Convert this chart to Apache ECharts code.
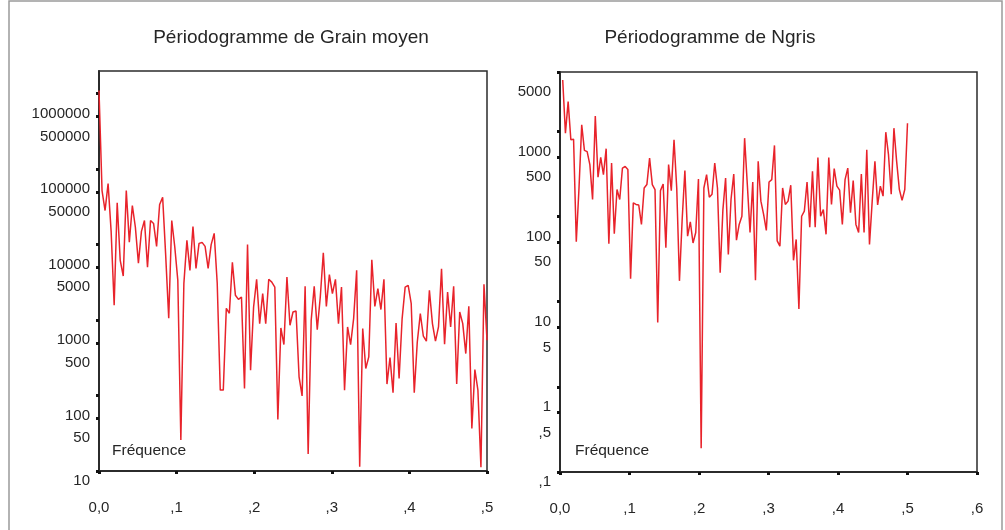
<!DOCTYPE html>
<html>
<head>
<meta charset="utf-8">
<script src="https://cdn.jsdelivr.net/npm/echarts@6/dist/echarts.min.js"></script>
<style>
  html, body { margin: 0; padding: 0; background: #fff; }
  #chart { width: 1005px; height: 530px; }
</style>
</head>
<body>
<div id="chart"></div>
<script>
// Fourier frequencies k / N of a series of length N
const N = 256;

// Periodogram of "Grain moyen", k = 0 .. 128
const grainPeriodogram = [
  1100000, 52000, 28300, 64500, 15000, 1570, 35800, 6170, 3830, 52000,
  10800, 33000, 17000, 5690, 15000, 20900, 5020, 20900, 19100, 9470,
  34000, 42300, 7200, 1060, 20900, 9300, 3360, 25.7, 3070, 11400,
  4560, 17400, 4840, 10400, 10700, 9470, 4840, 10000, 14100, 3070,
  118, 118, 1430, 1230, 5820, 2130, 1880, 2020, 124, 10000,
  217, 1490, 3470, 899, 2240, 899, 3470, 3190, 2740, 48,
  787, 474, 3720, 853, 1280, 1320, 177, 99, 2800, 16.8,
  994, 2800, 748, 2020, 7820, 1520, 4000, 2240, 3470, 899,
  2740, 118, 811, 474, 1047, 4560, 11.4, 772, 228, 325,
  6310, 1520, 2610, 1380, 3470, 142, 319, 109, 916, 168,
  1047, 2740, 2890, 1650, 109, 513, 1220, 611, 525, 2480,
  899, 525, 811, 4800, 479, 2350, 811, 2800, 142, 1280,
  899, 360, 1520, 36.7, 221, 118, 11.2, 2980, 541
];

// Periodogram of "Ngris", k = 1 .. 128
const ngrisPeriodogram = [
  4027, 955, 2244, 800, 810, 50.7, 217, 1197, 600, 580,
  408, 159, 1516, 291, 496, 312, 628, 48, 427, 63,
  208, 159, 372, 388, 357, 18.6, 145, 139, 137, 81,
  217, 238, 487, 238, 208, 5.7, 202, 242, 43, 408,
  202, 800, 217, 17.6, 92.6, 348, 59, 87, 49, 65,
  277, 0.19, 217, 312, 169, 183, 427, 217, 22, 120,
  284, 36, 160, 317, 53, 81, 101, 835, 238, 65,
  255, 17.9, 446, 152, 106, 69, 255, 272, 686, 52,
  45, 217, 139, 152, 234, 30.7, 54, 8.2, 101, 116,
  255, 75, 341, 75, 496, 101, 121, 62, 496, 139,
  366, 228, 205, 81, 272, 372, 111, 265, 81, 65,
  317, 65, 611, 47, 152, 446, 137, 228, 174, 981,
  534, 183, 1094, 446, 208, 155, 208, 1250
];

const grainFirstK = 0;
const ngrisFirstK = 1;

// Axis ticks
const grainYTicks = [10, 50, 100, 500, 1000, 5000, 10000, 50000, 100000, 500000, 1000000];
const ngrisYTicks = [0.1, 0.5, 1, 5, 10, 50, 100, 500, 1000, 5000];
const grainYRange = [10, 2000000];
const ngrisYRange = [0.1, 5000];
const grainXRange = [0, 0.5];
const ngrisXRange = [0, 0.6];

const titles = ['Périodogramme de Grain moyen', 'Périodogramme de Ngris'];
const xName = 'Fréquence';

const FONT = '"Liberation Sans", Arial, Helvetica, sans-serif';
const TEXT = '#262626';
const LINE = '#e8232b';
const AXIS = '#2b2b2b';

function pairs(values, firstK) {
  return values.map((v, i) => [(firstK + i) / N, v]);
}

// SPSS-style numbers: decimal comma, no leading zero
function fmtNum(v) {
  const r = Number(Number(v).toPrecision(6));
  if (r === 0) return '0,0';
  if (r < 1) return ',' + String(r).split('.')[1];
  return String(r);
}

function yAxisFor(gridIndex, range, ticks) {
  const bottom = ticks[0];
  return {
    type: 'log',
    logBase: 10,
    gridIndex,
    min: range[0],
    max: range[1],
    axisLine: { show: true, lineStyle: { color: AXIS, width: 2 } },
    axisTick: {
      show: true, inside: false, length: 3,
      customValues: ticks,
      lineStyle: { color: '#111', width: 3 }
    },
    minorTick: { show: false },
    splitLine: { show: false },
    axisLabel: {
      customValues: ticks,
      showMinLabel: true,
      showMaxLabel: true,
      hideOverlap: false,
      margin: 9,
      formatter: (v) => {
        const s = fmtNum(v);
        return Math.abs(v - bottom) < bottom * 1e-6 ? '{b|' + s + '}' : '{a|' + s + '}';
      },
      rich: {
        a: { padding: [40, 0, 0, 0], fontSize: 15, fontFamily: FONT, color: TEXT },
        b: { padding: [20, 0, 0, 0], fontSize: 15, fontFamily: FONT, color: TEXT }
      }
    }
  };
}

function xAxisFor(gridIndex, range) {
  return {
    type: 'value',
    gridIndex,
    min: range[0],
    max: range[1],
    interval: 0.1,
    axisLine: { show: true, lineStyle: { color: AXIS, width: 2 } },
    axisTick: { show: true, inside: false, length: 3, lineStyle: { color: '#111', width: 3 } },
    splitLine: { show: false },
    axisLabel: {
      margin: 29,
      showMinLabel: true,
      showMaxLabel: true,
      fontSize: 15,
      fontFamily: FONT,
      color: TEXT,
      formatter: (v) => fmtNum(v)
    }
  };
}

const chart = echarts.init(document.getElementById('chart'), null, { renderer: 'canvas' });

chart.setOption({
  backgroundColor: '#fff',
  animation: false,
  title: [
    { text: titles[0], left: 291, top: 28, textAlign: 'center', padding: 0,
      textStyle: { fontSize: 19, fontWeight: 'normal', fontFamily: FONT, color: TEXT } },
    { text: titles[1], left: 710, top: 28, textAlign: 'center', padding: 0,
      textStyle: { fontSize: 19, fontWeight: 'normal', fontFamily: FONT, color: TEXT } },
    { text: xName, left: 112, top: 443, padding: 0,
      textStyle: { fontSize: 15.5, fontWeight: 'normal', fontFamily: FONT, color: TEXT } },
    { text: xName, left: 575, top: 443, padding: 0,
      textStyle: { fontSize: 15.5, fontWeight: 'normal', fontFamily: FONT, color: TEXT } }
  ],
  grid: [
    { left: 99, top: 71, width: 388, height: 400, show: true,
      borderColor: AXIS, borderWidth: 1.5, backgroundColor: 'transparent', outerBoundsMode: 'none' },
    { left: 560, top: 72, width: 417, height: 400, show: true,
      borderColor: AXIS, borderWidth: 1.5, backgroundColor: 'transparent', outerBoundsMode: 'none' }
  ],
  xAxis: [xAxisFor(0, grainXRange), xAxisFor(1, ngrisXRange)],
  yAxis: [yAxisFor(0, grainYRange, grainYTicks), yAxisFor(1, ngrisYRange, ngrisYTicks)],
  series: [
    { type: 'line', xAxisIndex: 0, yAxisIndex: 0, data: pairs(grainPeriodogram, grainFirstK),
      showSymbol: false, symbol: 'none', clip: true,
      lineStyle: { color: LINE, width: 1.5 } },
    { type: 'line', xAxisIndex: 1, yAxisIndex: 1, data: pairs(ngrisPeriodogram, ngrisFirstK),
      showSymbol: false, symbol: 'none', clip: true,
      lineStyle: { color: LINE, width: 1.5 } }
  ],
  graphic: [
    { type: 'rect', silent: true, z: -1,
      shape: { x: 9, y: 1, width: 993, height: 540 },
      style: { fill: 'none', stroke: '#9a9a9a', lineWidth: 1.5 } }
  ]
});
</script>
</body>
</html>
